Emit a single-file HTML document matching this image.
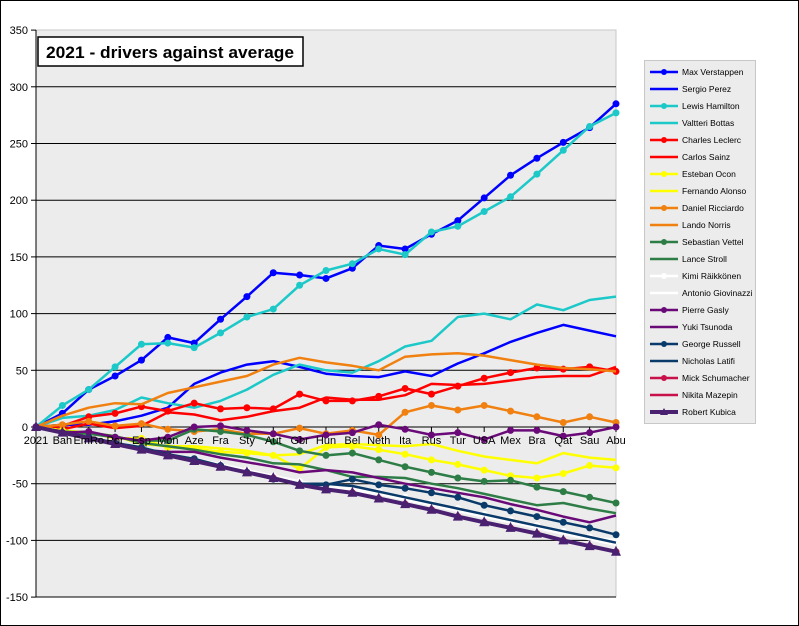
<!DOCTYPE html>
<html><head><meta charset="utf-8"><style>
body{margin:0;background:#fff}
svg{display:block;font-family:"Liberation Sans",sans-serif}
</style></head><body>
<svg id="c" width="799" height="626" xmlns="http://www.w3.org/2000/svg">
<rect x="0.5" y="0.5" width="798" height="625" fill="#fff" stroke="#000"/>
<rect x="36" y="30" width="580" height="567" fill="#ececec" stroke="#c8c8c8"/>
<g id="grid"></g><g id="series"></g><g id="labels" font-size="11" fill="#000"></g>
<rect x="38" y="37" width="265" height="29" fill="#fff" stroke="#000" stroke-width="1.5"/>
<text x="46" y="58" font-size="17" font-weight="bold" textLength="248" lengthAdjust="spacingAndGlyphs">2021 - drivers against average</text>
<rect x="644.5" y="60.5" width="111" height="363" fill="#ececec" stroke="#c8c8c8"/>
<g id="legend" font-size="8.5"></g>
</svg>
<script>
var NS="http://www.w3.org/2000/svg";
function el(t,a,p,txt){var e=document.createElementNS(NS,t);for(var k in a)e.setAttribute(k,a[k]);if(txt!=null)e.textContent=txt;p.appendChild(e);return e;}
var X0=36,DX=580/22,Y0=427,S=1.134;
function px(i){return X0+i*DX}function py(v){return Y0-v*S}
var g=document.getElementById('grid'),L=document.getElementById('labels');
for(var v=-150;v<=350;v+=50){var y=py(v);if(v>-150&&v<350)el('line',{x1:36,x2:616,y1:y,y2:y,stroke:'#000','stroke-width':1},g);el('line',{x1:31,x2:36,y1:y,y2:y,stroke:'#000'},g);el('text',{x:28,y:y+4,'text-anchor':'end'},L,v);}
el('line',{x1:36,x2:36,y1:30,y2:597,stroke:'#000'},g);el('line',{x1:36,x2:616,y1:597,y2:597,stroke:'#000'},g);
var cats=["2021","Bah","EmRo","Por","Esp","Mon","Aze","Fra","Sty","Aut","Gbr","Hun","Bel","Neth","Ita","Rus","Tur","USA","Mex","Bra","Qat","Sau","Abu"];
cats.forEach(function(c,i){el('line',{x1:px(i),x2:px(i),y1:427,y2:432,stroke:'#000'},g);el('text',{x:px(i),y:444,'text-anchor':'middle'},L,c);});
var D=[
["Max Verstappen","#0000ff",1,[0,12,33,45,59,79,74,95,115,136,134,131,140,160,157,170,182,202,222,237,251,264,285]],
["Sergio Perez","#0000ff",0,[0,2,2,5,10,17,38,48,55,58,53,47,45,44,49,45,56,65,75,83,90,85,80]],
["Lewis Hamilton","#1cc8c8",1,[0,19,33,53,73,74,70,83,97,104,125,138,144,157,152,172,177,190,203,223,244,265,277]],
["Valtteri Bottas","#1cc8c8",0,[0,8,10,15,26,21,17,23,33,46,55,50,48,58,71,76,97,100,95,108,103,112,115]],
["Charles Leclerc","#ff0000",1,[0,1,9,12,18,14,21,16,17,16,29,23,23,27,34,29,36,43,48,52,51,53,49]],
["Carlos Sainz","#ff0000",0,[0,-2,3,-1,1,13,11,6,9,14,17,26,24,24,28,38,37,38,41,44,45,45,53]],
["Esteban Ocon","#ffff00",1,[0,-3,-5,-10,-10,-18,-19,-22,-23,-25,-37,-18,-17,-20,-24,-29,-33,-38,-43,-45,-41,-34,-36]],
["Fernando Alonso","#ffff00",0,[0,-3,-5,-8,-15,-17,-17,-19,-21,-25,-24,-16,-15,-16,-17,-15,-21,-26,-29,-32,-23,-27,-29]],
["Daniel Ricciardo","#f08010",1,[0,2,5,1,3,-2,-4,-2,-6,-6,-1,-6,-3,-7,13,19,15,19,14,9,4,9,4]],
["Lando Norris","#f08010",0,[0,10,17,21,20,30,35,40,45,55,61,57,54,50,62,64,65,63,59,55,52,51,49]],
["Sebastian Vettel","#2e7d46",1,[0,-5,-6,-9,-12,-12,-2,-4,-7,-13,-21,-25,-23,-29,-35,-40,-45,-48,-47,-53,-57,-62,-67]],
["Lance Stroll","#2e7d46",0,[0,-4,-5,-8,-14,-17,-20,-24,-27,-32,-33,-38,-44,-44,-45,-50,-54,-59,-64,-69,-67,-72,-76]],
["Kimi Räikkönen","#ffffff",1,[0,-5,-10,-15,-20,-24,-28,-33,-38,-43,-48,-52,-55,-57,-62,-67,-72,-77,-82,-87,-92,-97,-100]],
["Antonio Giovinazzi","#ffffff",0,[0,-5,-10,-15,-20,-25,-29,-34,-39,-44,-49,-53,-56,-59,-64,-69,-74,-79,-84,-89,-94,-99,-104]],
["Mick Schumacher","#c8104a",1,[0,-5,-10,-15,-20,-25,-30,-35,-40,-45,-51,-55,-58,-63,-68,-73,-79,-84,-89,-94,-100,-105,-110]],
["Nikita Mazepin","#c8104a",0,[0,-5,-10,-15,-20,-25,-30,-35,-40,-45,-51,-55,-58,-63,-68,-73,-79,-84,-89,-94,-100,-105,-110]],
["Yuki Tsunoda","#6a0a78",0,[0,-4,-9,-14,-20,-22,-22,-27,-31,-35,-40,-38,-40,-45,-50,-54,-58,-62,-68,-73,-79,-84,-78]],
["Latifi","#0a3a6a",0,[0,-5,-10,-15,-20,-25,-30,-35,-40,-45,-50,-50,-52,-57,-62,-67,-72,-77,-82,-87,-92,-97,-102]],
["George Russell","#0a3a6a",1,[0,-5,-9,-14,-18,-24,-28,-34,-40,-46,-51,-51,-46,-51,-54,-58,-62,-69,-74,-79,-84,-89,-95]],
["Pierre Gasly","#6a0a78",1,[0,-5,-4,-9,-12,-9,0,1,-3,-6,-11,-7,-5,2,-2,-7,-5,-11,-3,-3,-8,-5,0]],
["Robert Kubica","#4a2070",2,[0,-5,-10,-15,-20,-25,-30,-35,-40,-45,-51,-55,-58,-63,-68,-73,-79,-84,-89,-94,-100,-105,-110]]
];
var sg=document.getElementById('series');
D.forEach(function(s){var pts=s[3].map(function(v,i){return px(i).toFixed(1)+','+py(v).toFixed(1)}).join(' ');
el('polyline',{points:pts,fill:'none',stroke:s[1],'stroke-width':s[2]==2?4:2.5,'stroke-linejoin':'round'},sg);
if(s[2]==1)s[3].forEach(function(v,i){el('circle',{cx:px(i),cy:py(v),r:3.5,fill:s[1]},sg)});
if(s[2]==2)s[3].forEach(function(v,i){var x=px(i),y=py(v);el('polygon',{points:(x-5)+','+(y+4)+' '+(x+5)+','+(y+4)+' '+x+','+(y-6),fill:s[1]},sg)});});
var leg=[["Max Verstappen","#0000ff",1],["Sergio Perez","#0000ff",0],["Lewis Hamilton","#1cc8c8",1],["Valtteri Bottas","#1cc8c8",0],["Charles Leclerc","#ff0000",1],["Carlos Sainz","#ff0000",0],["Esteban Ocon","#ffff00",1],["Fernando Alonso","#ffff00",0],["Daniel Ricciardo","#f08010",1],["Lando Norris","#f08010",0],["Sebastian Vettel","#2e7d46",1],["Lance Stroll","#2e7d46",0],["Kimi Räikkönen","#ffffff",1],["Antonio Giovinazzi","#ffffff",0],["Pierre Gasly","#6a0a78",1],["Yuki Tsunoda","#6a0a78",0],["George Russell","#0a3a6a",1],["Nicholas Latifi","#0a3a6a",0],["Mick Schumacher","#c8104a",1],["Nikita Mazepin","#c8104a",0],["Robert Kubica","#4a2070",2]];
var lg=document.getElementById('legend');
leg.forEach(function(s,i){var y=72+i*17;el('line',{x1:650,x2:678,y1:y,y2:y,stroke:s[1],'stroke-width':s[2]==2?4:2.5},lg);
if(s[2]==1)el('circle',{cx:664,cy:y,r:3,fill:s[1]},lg);if(s[2]==2)el('polygon',{points:'660,'+(y+3)+' 668,'+(y+3)+' 664,'+(y-4),fill:s[1]},lg);
el('text',{x:682,y:y+3},lg,s[0]);});
</script>
</body></html>
